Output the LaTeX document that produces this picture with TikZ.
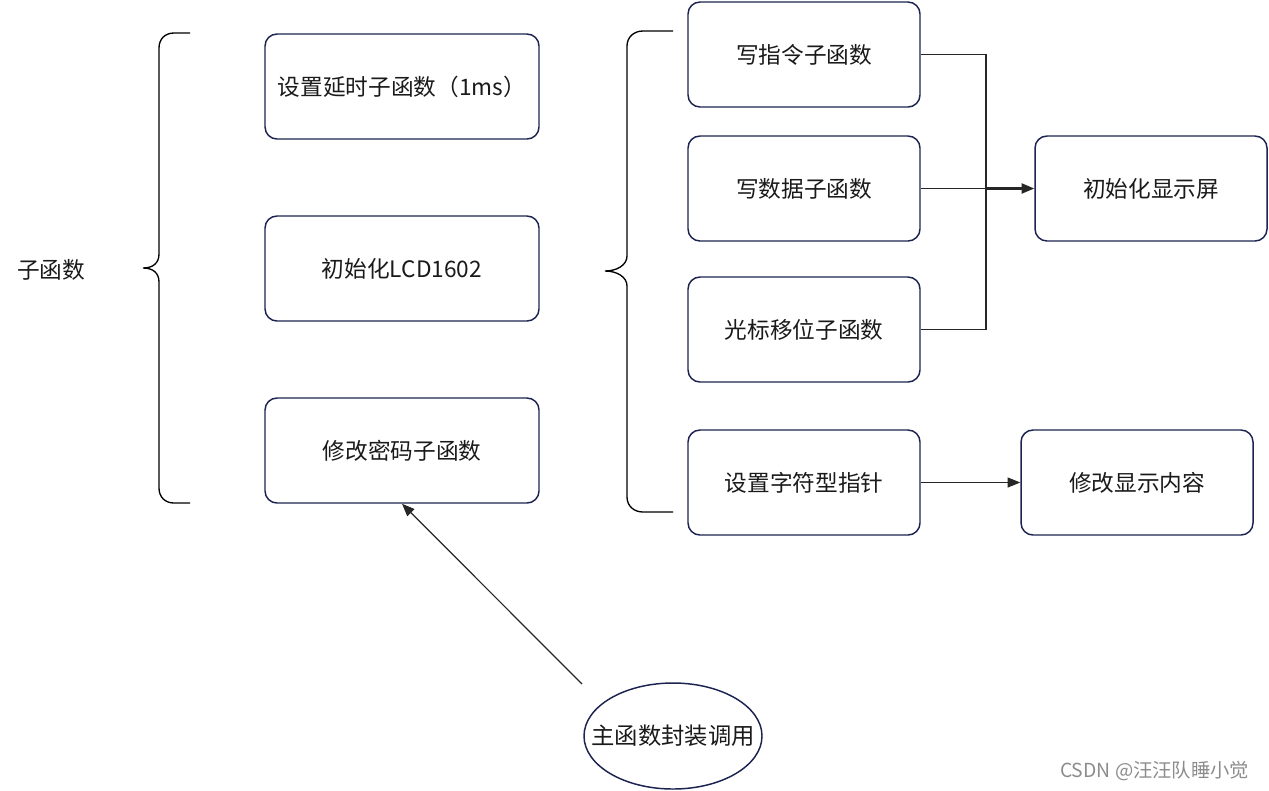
\documentclass[tikz,border=0pt]{standalone}
\usepackage{fontspec}
\setmainfont{Noto Sans CJK SC}
\usetikzlibrary{arrows.meta,shapes.geometric}
\definecolor{boxline}{HTML}{1C2350}
\definecolor{txt}{HTML}{1A1A1A}
\begin{document}
\begin{tikzpicture}[x=0.75pt,y=-0.75pt,
  box/.style={draw=boxline,line width=1.1pt,rounded corners=9pt,
    minimum height=78.75pt,inner sep=0pt,font=\fontsize{17}{20}\selectfont,text=txt},
  wbox/.style={box,minimum width=205.5pt},
  nbox/.style={box,minimum width=174pt},
  conn/.style={draw=black!85,line width=0.9pt},
  tip/.style={-{Triangle[length=9.5pt,width=7.5pt]}},
  brace/.style={draw=black,line width=1pt}]
\useasboundingbox (0,0) rectangle (1269,790);
% left label
\node[font=\fontsize{17}{20}\selectfont,text=txt] (zi) at (51,270) {子函数};
% braces
\draw[brace] (190,33) -- (174,33) .. controls (165,33) and (159,39) .. (159,48)
  -- (159,254) .. controls (159,263) and (153,268) .. (143,268)
  .. controls (153,268) and (159,273) .. (159,282)
  -- (159,488) .. controls (159,497) and (165,503) .. (174,503) -- (190,503);
\draw[brace] (673,31) -- (643,31) .. controls (634,31) and (627,37) .. (627,46)
  -- (627,256) .. controls (627,265) and (617,271) .. (605,271)
  .. controls (617,271) and (627,277) .. (627,286)
  -- (627,497) .. controls (627,506) and (634,512) .. (643,512) -- (673,512);
% middle column
\node[wbox] (A) at (402,86.5) {设置延时子函数（1ms）};
\node[wbox] (B) at (402,268.5) {初始化LCD1602};
\node[wbox] (C) at (402,450.5) {修改密码子函数};
% right column
\node[nbox] (D) at (804,54.5) {写指令子函数};
\node[nbox] (E) at (804,188.5) {写数据子函数};
\node[nbox] (F) at (804,329.5) {光标移位子函数};
\node[nbox] (G) at (804,482.5) {设置字符型指针};
\node[nbox] (H) at (1151,188.5) {初始化显示屏};
\node[nbox] (I) at (1137,482.5) {修改显示内容};
% ellipse
\node[ellipse,draw=boxline,line width=1.1pt,minimum width=133.5pt,minimum height=79.5pt,
  inner sep=0pt,font=\fontsize{17.5}{20}\selectfont,text=txt] (M) at (673,736) {\makebox[60pt]{主函数封装调用}};
% connectors
\coordinate (j) at (986,188.5);
\draw[conn] (D.east) -| (j) |- (F.east);
\draw[conn] (E.east) -- (j);
\draw[conn,line width=1.6pt,tip] (j) -- (H.west);
\draw[conn,tip] (G.east) -- (I.west);
\coordinate (s) at (582,684);
\draw[conn,tip] (s) -- (C.south);
% watermark
\node[anchor=east,text=black!45,font=\fontsize{14.5}{16}\selectfont] (wm) at (1254,771) {CSDN @汪汪队睡小觉};
\end{tikzpicture}
\end{document}
